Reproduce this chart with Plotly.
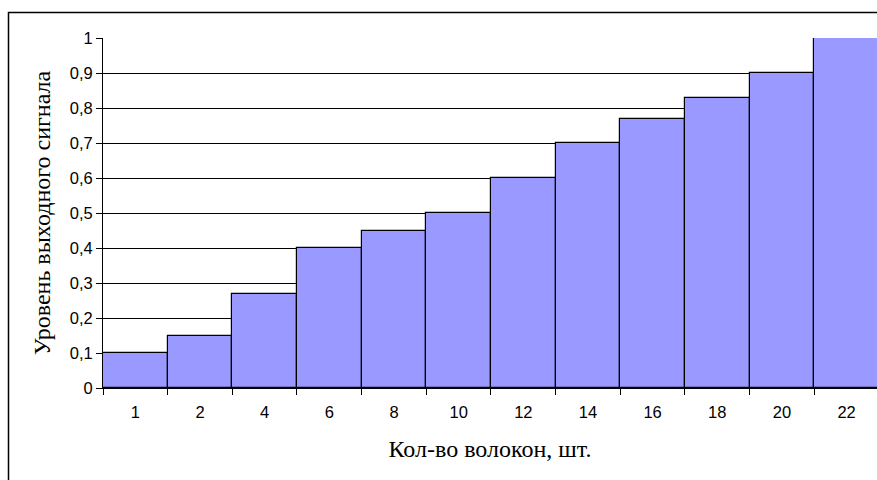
import plotly.graph_objects as go

# Number of fibres (categories) and normalised output signal level
fibres = ["1", "2", "4", "6", "8", "10", "12", "14", "16", "18", "20", "22"]
signal = [0.10, 0.15, 0.27, 0.40, 0.45, 0.50, 0.60, 0.70, 0.77, 0.83, 0.90, 1.00]
y_ticks = [0, 0.1, 0.2, 0.3, 0.4, 0.5, 0.6, 0.7, 0.8, 0.9, 1.0]

W, H = 877, 480
L, R, T, B = 103, 0, 38, 92
pw, ph = W - L - R, H - T - B

fig = go.Figure(
    go.Bar(
        x=fibres,
        y=signal,
        marker=dict(color="#9999FF", line=dict(color="#000000", width=1.2)),
        hoverinfo="x+y",
    )
)

tick_font = dict(family="Arial, Liberation Sans, sans-serif", size=16.5, color="#000000")
serif = "Liberation Serif, Times New Roman, serif"

fig.update_layout(
    width=W,
    height=H,
    margin=dict(l=L, r=R, t=T, b=B),
    paper_bgcolor="#FFFFFF",
    plot_bgcolor="#FFFFFF",
    bargap=0,
    separators=", ",
    showlegend=False,
    xaxis=dict(
        type="category",
        range=[-0.5, 11.47],
        showline=True,
        linecolor="#000000",
        linewidth=1,
        ticks="outside",
        tickson="boundaries",
        ticklen=6,
        tickcolor="#000000",
        tickfont=tick_font,
        ticklabelstandoff=9,
        showgrid=False,
        title=dict(
            text="Кол-во волокон, шт.",
            font=dict(family=serif, size=24, color="#000000"),
            standoff=20,
        ),
    ),
    yaxis=dict(
        range=[0, 1],
        tickvals=y_ticks,
        tickformat=".1~f",
        showline=True,
        linecolor="#000000",
        linewidth=1,
        ticks="outside",
        ticklen=6,
        tickcolor="#000000",
        tickfont=tick_font,
        showgrid=True,
        gridcolor="#000000",
        gridwidth=1,
        zeroline=False,
        title=dict(
            text="Уровень выходного сигнала",
            font=dict(family=serif, size=24, color="#000000"),
            standoff=12,
        ),
    ),
)

# Frame around the chart area
fig.add_shape(
    type="rect",
    xref="paper",
    yref="paper",
    x0=(8.5 - L) / pw,
    x1=(W + 10 - L) / pw,
    y0=(T + ph - (H + 10)) / ph,
    y1=(T + ph - 12.5) / ph,
    line=dict(color="#000000", width=1.5),
    fillcolor="rgba(0,0,0,0)",
    layer="above",
)

fig.write_html("out.html")
